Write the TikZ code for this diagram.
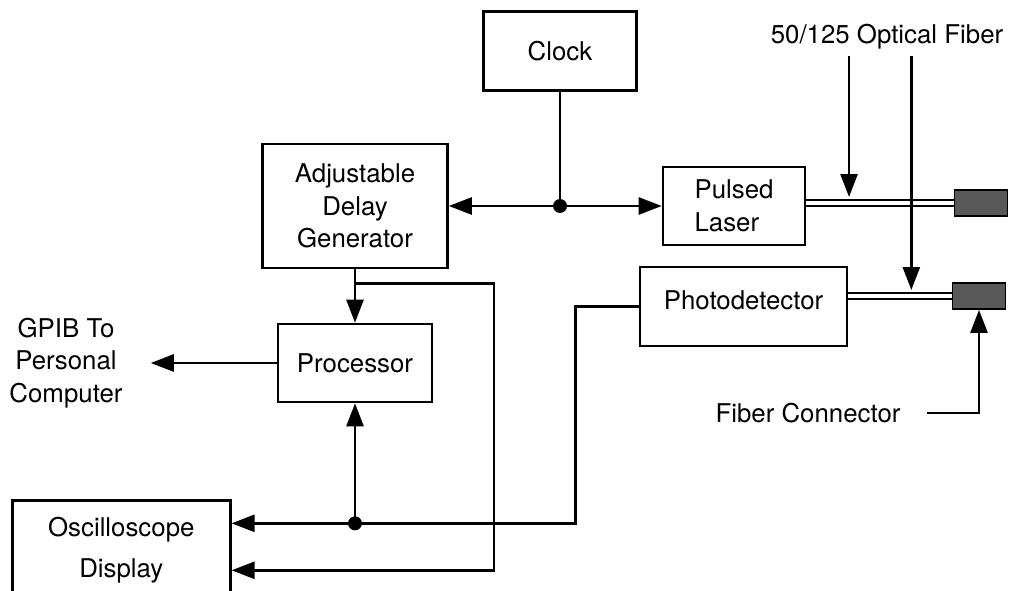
\documentclass[tikz,border=0pt]{standalone}
\usepackage{fontspec}
\setmainfont{TeX Gyre Heros}
\usetikzlibrary{arrows.meta,calc,positioning}

\begin{document}
\begin{tikzpicture}[x=0.02cm, y=-0.02cm,
        every node/.style={font=\fontsize{14.7}{18.5}\selectfont},
        blk/.style={draw, line width=1.5pt},
        arr/.style={-{Triangle[length=0.46cm,width=0.34cm]}, line width=1.5pt},
        wire/.style={line width=1.5pt},
        fiber/.style={double, double distance=0.07cm, line width=1.1pt},
        plug/.style={draw, line width=1pt, fill=black!65, minimum width=1.06cm, minimum height=0.52cm}]
    \useasboundingbox (0,0) rectangle (1017,591);

    % Main blocks
    \node [blk, minimum width=3.06cm, minimum height=1.58cm] (clock) at (560,51) {Clock};
    \node [blk, minimum width=3.7cm, minimum height=2.48cm, align=center] (adg) at (355,206) {Adjustable\\Delay\\Generator};
    \node [blk, minimum width=2.84cm, minimum height=1.56cm, align=left] (laser) at (734,206) {Pulsed\\Laser};
    \node [blk, minimum width=4.14cm, minimum height=1.58cm, text depth=0.25cm] (photo) at (743.5,306.5) {Photodetector};
    \node [blk, minimum width=3.08cm, minimum height=1.56cm] (proc) at (355,363) {Processor};
    \node [blk, minimum width=4.36cm, minimum height=2cm, anchor=north west, align=center] (osc) at (11,499) {Oscilloscope\\[5pt]Display};

    % Fiber connectors
    \node [plug] (conn1) at (981,203) {};
    \node [plug] (conn2) at (979,296) {};

    % Free labels
    \node (fiberlbl) at (887,37) {50/125 Optical Fiber};
    \node (fconn) at (808,413) {Fiber Connector};
    \node [align=center] (gpib) at (66,363) {GPIB To\\Personal\\Computer};

    % Clock distribution
    \coordinate (clk) at (clock.south |- adg.east);
    \draw [wire] (clock) -- (clk);
    \draw [arr] (clk) -- (adg);
    \draw [arr] (clk) -- (laser);
    \fill (clk) circle (0.14cm);

    % Optical fibers
    \draw [fiber] (laser.east |- conn1.west) -- (conn1.west);
    \draw [fiber] (photo.east |- conn2.west) -- (conn2.west);
    \coordinate (f1) at ($(laser.east |- conn1.west)!0.29!(conn1.west)$);
    \coordinate (f2) at ($(photo.east |- conn2.west)!0.61!(conn2.west)$);
    \draw [arr] (f1 |- fiberlbl.south) -- ([yshift=0.12cm]f1);
    \draw [arr] (f2 |- fiberlbl.south) -- ([yshift=0.12cm]f2);
    \draw [arr, shorten <=0.4cm] (fconn.east) -| (conn2.south);

    % Processing and display
    \draw [arr] (adg) -- (proc);
    \draw [arr, shorten >=0.44cm] (proc) -- (gpib);
    \coordinate (br) at ([yshift=-0.28cm]adg.south);
    \coordinate (disp1) at ([yshift=0.54cm]osc.east);
    \coordinate (disp2) at ([yshift=-0.4cm]osc.east);
    \draw [arr] (br) -- ++(139,0) |- (disp2);
    \draw [arr] (photo.west) -- ++(-63,0) |- (disp1);
    \coordinate (tap) at (proc.south |- disp1);
    \draw [arr] (tap) -- (proc);
    \fill (tap) circle (0.14cm);
\end{tikzpicture}
\end{document}
